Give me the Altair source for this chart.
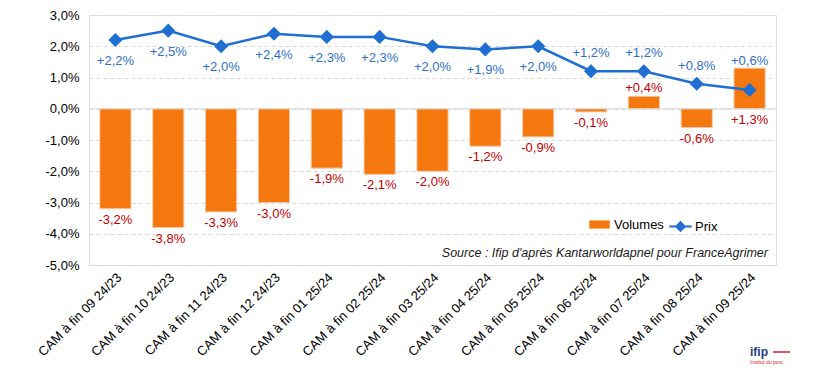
import altair as alt
import pandas as pd

categories = ["CAM à fin 09 24/23", "CAM à fin 10 24/23", "CAM à fin 11 24/23",
              "CAM à fin 12 24/23", "CAM à fin 01 25/24", "CAM à fin 02 25/24",
              "CAM à fin 03 25/24", "CAM à fin 04 25/24", "CAM à fin 05 25/24",
              "CAM à fin 06 25/24", "CAM à fin 07 25/24", "CAM à fin 08 25/24",
              "CAM à fin 09 25/24"]
volumes = [-3.2, -3.8, -3.3, -3.0, -1.9, -2.1, -2.0, -1.2, -0.9, -0.1, 0.4, -0.6, 1.3]
prix = [2.2, 2.5, 2.0, 2.4, 2.3, 2.3, 2.0, 1.9, 2.0, 1.2, 1.2, 0.8, 0.6]
y_ticks = [-5, -4, -3, -2, -1, 0, 1, 2, 3]

ORANGE = "#F5780F"
BLUE = "#1F6FD2"
LABEL_BLUE = "#2E6FC8"
RED = "#C00000"
FONT = "Liberation Sans"


def fmt(v):
    return f"{v:+.1f}%".replace(".", ",")


df = pd.DataFrame({
    "cat": categories,
    "idx": list(range(len(categories))),
    "vol": volumes,
    "prix": prix,
    "vol_label": [fmt(v) for v in volumes],
    "prix_label": [fmt(v) for v in prix],
    "vol_series": ["Volumes"] * len(categories),
    "prix_series": ["Prix"] * len(categories),
})

W, H = 687, 250

x_axis = alt.Axis(labelAngle=-45, labelFontSize=13, labelFont=FONT,
                  labelColor="#000000", ticks=False, domain=False, grid=False,
                  labelPadding=10, labelAlign="right", labelBaseline="middle",
                  labelOffset=4)
x_scale = alt.Scale(paddingInner=0.41, paddingOuter=0.205)
y_scale = alt.Scale(domain=[-5, 3], nice=False, zero=False)
y_axis = alt.Axis(values=y_ticks, title=None, domain=False, ticks=False,
                  labelFontSize=13, labelFont=FONT, labelColor="#000000", labelPadding=10,
                  labelOverlap=False, labelFlush=False, tickCount=9,
                  gridColor="#D9D9D9", gridDash=[4, 3], gridWidth=1,
                  labelExpr="replace(replace(format(datum.value, '.1f'), '.', ','), '\u2212', '-') + '%'")


def X():
    return alt.X("cat:N", sort=categories, title=None, scale=x_scale, axis=x_axis)


def Y(field):
    return alt.Y(field, scale=y_scale, axis=y_axis, title=None)


base = alt.Chart(df)

bars = base.mark_bar(stroke="#F8C8A8", strokeWidth=1).encode(
    x=X(),
    y=Y("vol:Q"),
    fill=alt.Fill("vol_series:N", scale=alt.Scale(domain=["Volumes"], range=[ORANGE]),
                  legend=alt.Legend(orient="none", legendX=500, legendY=199, title=None,
                                    symbolType="M-1,-0.4H1V0.4H-1Z", symbolSize=420,
                                    symbolStrokeWidth=0, labelFontSize=13, labelFont=FONT,
                                    labelColor="#000000", labelOffset=4)),
)

zero = alt.Chart(pd.DataFrame({"z": [0]})).mark_rule(color="#D9D9D9", strokeWidth=1).encode(
    y=Y("z:Q"))

line = base.mark_line(strokeWidth=2.5).encode(
    x=X(),
    y=Y("prix:Q"),
    stroke=alt.Stroke("prix_series:N", scale=alt.Scale(domain=["Prix"], range=[BLUE]),
                      legend=alt.Legend(orient="none", legendX=579, legendY=199, title=None,
                                        symbolType="M-1,0H1M0,-0.38L0.38,0L0,0.38L-0.38,0Z",
                                        symbolSize=500, symbolStrokeWidth=2,
                                        symbolFillColor=BLUE, labelFontSize=13,
                                        labelFont=FONT, labelColor="#000000", labelOffset=2)),
)

points = base.mark_point(shape="diamond", filled=True, size=200, color=BLUE, opacity=1).encode(
    x=X(), y=Y("prix:Q"))

txt_kw = dict(fontSize=13, font=FONT)


def prix_text(filt, dy):
    return base.transform_filter(filt).mark_text(dy=dy, color=LABEL_BLUE, **txt_kw).encode(
        x=X(), y=Y("prix:Q"), text="prix_label:N")


prix_below = prix_text("datum.idx < 9", 21)
prix_above = prix_text("datum.idx >= 9 && datum.idx < 12", -18)
prix_last = prix_text("datum.idx == 12", -29)

vol_below = base.transform_filter("datum.idx != 10").transform_calculate(
    ly="min(datum.vol, 0)").mark_text(dy=11, color=RED, **txt_kw).encode(
    x=X(), y=Y("ly:Q"), text="vol_label:N")
vol_above = base.transform_filter("datum.idx == 10").mark_text(
    dy=-8, color=RED, **txt_kw).encode(
    x=X(), y=Y("vol:Q"), text="vol_label:N")

source = alt.Chart(pd.DataFrame({"t": ["Source : Ifip d'après Kantarworldapnel pour FranceAgrimer"]})).mark_text(
    align="right", baseline="middle", fontStyle="italic", fontSize=12.5, font=FONT, color="#1a1a1a"
).encode(x=alt.value(W - 8), y=alt.datum(-4.62, scale=y_scale), text="t:N")

logo1 = alt.Chart(pd.DataFrame({"t": ["ifip"]})).mark_text(
    align="left", baseline="alphabetic", fontSize=12, fontWeight="bold", font=FONT, color="#1F3C78"
).encode(x=alt.value(661), y=alt.value(341), text="t:N")
logo2 = alt.Chart(pd.DataFrame({"t": ["Institut du porc"]})).mark_text(
    align="left", baseline="alphabetic", fontSize=5, font=FONT, color="#D0202E"
).encode(x=alt.value(661), y=alt.value(349), text="t:N")
logo3 = alt.Chart(pd.DataFrame({"t": [1]})).mark_rule(color="#D0202E", strokeWidth=1.5).encode(
    x=alt.value(684), x2=alt.value(701), y=alt.value(337))

chart = alt.layer(bars, zero, line, points, prix_below, prix_above, prix_last, vol_below, vol_above,
                  source, logo1, logo2, logo3).resolve_scale(fill="independent", stroke="independent").properties(
    width=W, height=H,
    autosize=alt.AutoSizeParams(type="none"),
    padding={"left": 81, "top": 7, "right": 32, "bottom": 101},
).configure_view(stroke=None).configure(background="white")

chart.save("out.html", embed_options={"renderer": "svg", "actions": False})
